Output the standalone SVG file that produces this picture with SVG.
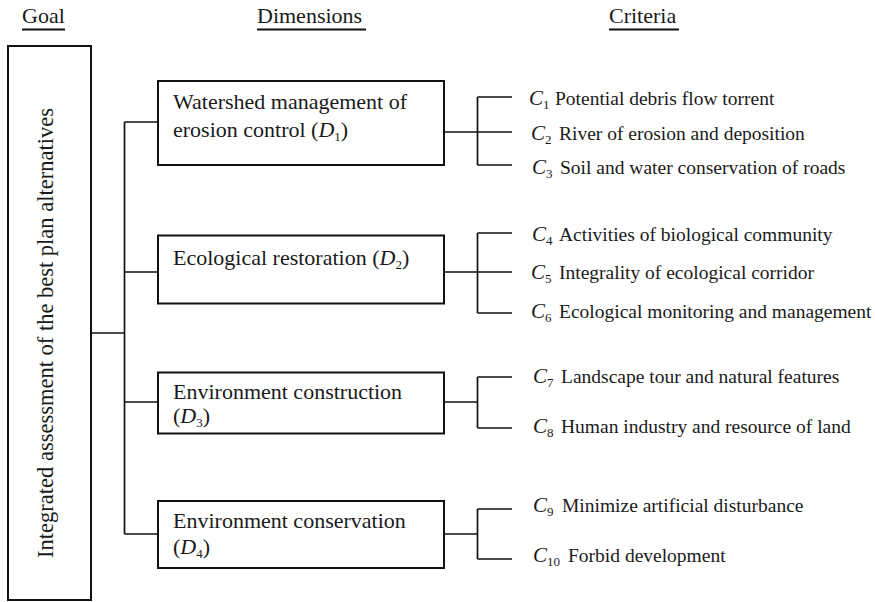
<svg xmlns="http://www.w3.org/2000/svg" width="875" height="602" viewBox="0 0 875 602">
<style>
text{font-family:"Liberation Serif","Times New Roman",serif;fill:#1a1a1a}
.hd{font-size:22px}
.dim{font-size:22px}
.goal{font-size:22.5px}
.crit{font-size:19.5px}
.it{font-style:italic}
.cC{font-style:italic;font-size:21px}
.sb{font-size:13px}
.box{fill:#fff;stroke:#111;stroke-width:2}
.ln{fill:none;stroke:#111;stroke-width:1.7}
.ul{stroke:#111;stroke-width:2}
</style>
<rect width="875" height="602" fill="#fff"/>
<g id="headers">
<text class="hd" x="22" y="23">Goal</text>
<line class="ul" x1="22" y1="29.5" x2="65" y2="29.5"/>
<text class="hd" x="257" y="23">Dimensions</text>
<line class="ul" x1="257" y1="29.5" x2="366" y2="29.5"/>
<text class="hd" x="609" y="23">Criteria</text>
<line class="ul" x1="609" y1="29.5" x2="679" y2="29.5"/>
</g>
<g id="connectors">
<path class="ln" d="M91 333H124.5M124.5 122V534M124.5 122H158M124.5 272H158M124.5 402H158M124.5 534H158"/>
<path class="ln" d="M444 132H477.5M477.5 97V165M477.5 97H512M477.5 132H512M477.5 165H512"/>
<path class="ln" d="M444 272H477.5M477.5 233V313M477.5 233H512M477.5 272H512M477.5 313H512"/>
<path class="ln" d="M444 402H477.5M477.5 377V428M477.5 377H512M477.5 428H512"/>
<path class="ln" d="M444 534H477.5M477.5 509V559M477.5 509H512M477.5 559H512"/>
</g>
<g id="goal">
<rect class="box" x="8" y="46" width="83" height="554"/>
<text class="goal" transform="translate(53,333) rotate(-90)" text-anchor="middle">Integrated assessment of the best plan alternatives</text>
</g>
<g id="D1">
<rect class="box" x="158" y="81" width="286" height="84"/>
<text class="dim" x="173" y="109">Watershed management of</text>
<text class="dim" x="173" y="137">erosion control (<tspan class="it">D</tspan><tspan class="sb" dy="4">1</tspan><tspan dy="-4">)</tspan></text>
</g>
<g id="D2">
<rect class="box" x="158" y="235.5" width="286" height="68"/>
<text class="dim" x="173" y="265">Ecological restoration (<tspan class="it">D</tspan><tspan class="sb" dy="4">2</tspan><tspan dy="-4">)</tspan></text>
</g>
<g id="D3">
<rect class="box" x="158" y="372.5" width="286" height="61"/>
<text class="dim" x="173" y="399">Environment construction</text>
<text class="dim" x="173" y="423">(<tspan class="it">D</tspan><tspan class="sb" dy="4">3</tspan><tspan dy="-4">)</tspan></text>
</g>
<g id="D4">
<rect class="box" x="158" y="501" width="286" height="67"/>
<text class="dim" x="173" y="528">Environment conservation</text>
<text class="dim" x="173" y="554">(<tspan class="it">D</tspan><tspan class="sb" dy="4">4</tspan><tspan dy="-4">)</tspan></text>
</g>
<g id="C1"><text class="crit" y="105"><tspan class="cC" x="529">C</tspan><tspan class="sb" dy="4">1</tspan><tspan x="555" dy="-4">Potential debris flow torrent</tspan></text></g>
<g id="C2"><text class="crit" y="140"><tspan class="cC" x="531">C</tspan><tspan class="sb" dy="4">2</tspan><tspan x="559" dy="-4">River of erosion and deposition</tspan></text></g>
<g id="C3"><text class="crit" y="174"><tspan class="cC" x="532">C</tspan><tspan class="sb" dy="4">3</tspan><tspan x="560" dy="-4">Soil and water conservation of roads</tspan></text></g>
<g id="C4"><text class="crit" y="241"><tspan class="cC" x="532">C</tspan><tspan class="sb" dy="4">4</tspan><tspan x="559" dy="-4">Activities of biological community</tspan></text></g>
<g id="C5"><text class="crit" y="279"><tspan class="cC" x="531">C</tspan><tspan class="sb" dy="4">5</tspan><tspan x="559" dy="-4">Integrality of ecological corridor</tspan></text></g>
<g id="C6"><text class="crit" y="318"><tspan class="cC" x="531">C</tspan><tspan class="sb" dy="4">6</tspan><tspan x="559" dy="-4">Ecological monitoring and management</tspan></text></g>
<g id="C7"><text class="crit" y="383"><tspan class="cC" x="533">C</tspan><tspan class="sb" dy="4">7</tspan><tspan x="561" dy="-4">Landscape tour and natural features</tspan></text></g>
<g id="C8"><text class="crit" y="433"><tspan class="cC" x="533">C</tspan><tspan class="sb" dy="4">8</tspan><tspan x="561" dy="-4">Human industry and resource of land</tspan></text></g>
<g id="C9"><text class="crit" y="512"><tspan class="cC" x="533">C</tspan><tspan class="sb" dy="4">9</tspan><tspan x="562" dy="-4">Minimize artificial disturbance</tspan></text></g>
<g id="C10"><text class="crit" y="562"><tspan class="cC" x="533">C</tspan><tspan class="sb" dy="4">10</tspan><tspan x="568" dy="-4">Forbid development</tspan></text></g>
</svg>
